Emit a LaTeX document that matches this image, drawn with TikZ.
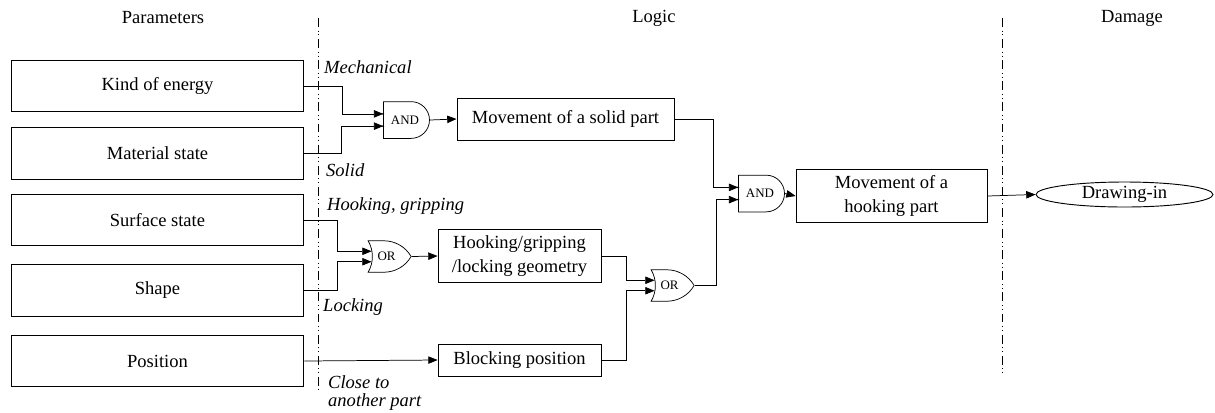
\documentclass[tikz,border=0pt]{standalone}
\usepackage{fontspec}
\setmainfont{Liberation Serif}
\usetikzlibrary{arrows.meta,shapes.geometric,shapes.gates.logic.US}
\begin{document}
\begin{tikzpicture}[x=0.54pt,y=-0.54pt,>={Triangle[length=5pt,width=4pt]},
    every node/.style={font=\fontsize{10}{13}\selectfont},
    param/.style={draw, line width=0.5pt, minimum width=158pt, minimum height=28pt},
    logicbox/.style={draw, line width=0.5pt, align=center},
    andg/.style={and gate US, draw, logic gate inputs=nn, minimum width=24.8pt, minimum height=16.2pt, inner sep=1pt, font=\fontsize{7}{8}\selectfont},
    org/.style={or gate US, draw, logic gate inputs=nn, minimum width=23.2pt, minimum height=15.7pt, inner sep=1pt, font=\fontsize{7}{8}\selectfont},
    cond/.style={anchor=west, inner sep=1pt, font=\fontsize{10}{11}\selectfont\itshape},
    sep/.style={line width=0.5pt, dash pattern=on 4.8pt off 2pt on 0.5pt off 1.6pt on 0.5pt off 2pt}]
        \useasboundingbox (0,0) rectangle (1215,412);

        \node (hpar) at (163,18) {Parameters};
        \node (hlog) at (654,18) {Logic};
        \node (hdam) at (1132,18) {Damage};

        \draw[sep] (318,18) -- (318,390);
        \draw[sep] (1002,18) -- (1002,373);

        \node[param] (kind) at (157.5,86) {Kind of energy};
        \node[param] (mat) at (157.5,153.5) {Material state};
        \node[param] (surf) at (157.5,220) {Surface state};
        \node[param] (shape) at (157.5,290.5) {Shape};
        \node[param] (pos) at (157.5,361) {Position};

        \node[andg] (and1) at (405,120) {AND};
        \node[org] (or1) at (386.5,256.5) {OR};
        \node[org] (or2) at (669.5,285.5) {OR};
        \node[andg] (and2) at (760,193.5) {AND};

        \node[logicbox, minimum width=117.2pt, minimum height=22.7pt] (solid) at (565.5,119) {Movement of a solid part};
        \node[logicbox, minimum width=88pt, minimum height=25.9pt] (hgeo) at (519.5,256) {Hooking/gripping\\/locking geometry};
        \node[logicbox, minimum width=88pt, minimum height=17.3pt] (block) at (519.5,360) {Blocking position};
        \node[logicbox, minimum width=103.1pt, minimum height=27pt] (hpart) at (891.5,196) {Movement of a\\hooking part};
        \node[draw, ellipse, line width=0.5pt, minimum width=95.6pt, minimum height=13.5pt, inner sep=0pt] (draw) at (1124.5,194.5) {Drawing-in};

        \node[cond] (lmech) at (322,67) {Mechanical};
        \node[cond] (lsol) at (324,170) {Solid};
        \node[cond] (lhook) at (325,206) {Hooking, gripping};
        \node[cond] (llock) at (321,307) {Locking};
        \node[cond] (lclose) at (326,382) {Close to};
        \node[cond] (lanot) at (326,402) {another part};

        \draw[->] (kind.east) -- ++(38,0) |- (and1.input 1);
        \draw[->] (mat.east) -- ++(37,0) |- (and1.input 2);
        \draw[->] (surf.east) -- ++(33,0) |- (or1.input 1);
        \draw[->] (shape.east) -- ++(33,0) |- (or1.input 2);
        \draw[->] (pos.east) -- (block.west);
        \draw[->] (and1.output) -- (solid.west);
        \draw[->] (or1.output) -- (hgeo.west);
        \draw[->] (hgeo.east) -- ++(25,0) |- (or2.input 1);
        \draw[->] (block.east) -- ++(25,0) |- (or2.input 2);
        \draw[->] (solid.east) -- ++(39,0) |- (and2.input 1);
        \draw[->] (or2.output) -- ++(22,0) |- (and2.input 2);
        \draw[->] (and2.output) -- (hpart.west);
        \draw[->] (hpart.east) -- (draw.west);

        \fill (and1.input 1) circle (0.6pt) (and1.input 2) circle (0.6pt);
        \fill (and2.input 1) circle (0.6pt) (and2.input 2) circle (0.6pt);
    \end{tikzpicture}
\end{document}
